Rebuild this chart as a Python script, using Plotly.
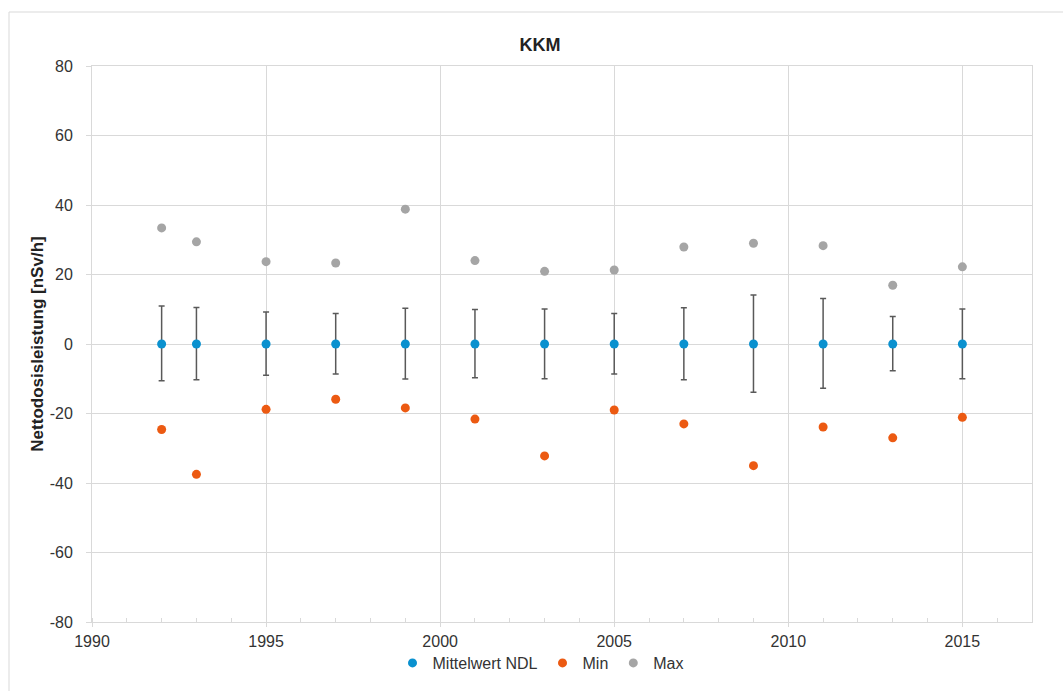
import plotly.graph_objects as go

# ---- data ----
years = [1992, 1993, 1995, 1997, 1999, 2001, 2003, 2005, 2007, 2009, 2011, 2013, 2015]
mean_ndl = [0, 0, 0, 0, 0, 0, 0, 0, 0, 0, 0, 0, 0]
err_plus = [10.9, 10.5, 9.2, 8.8, 10.3, 9.9, 10.1, 8.8, 10.4, 14.1, 13.1, 7.9, 10.1]
err_minus = [10.6, 10.3, 9.0, 8.6, 10.1, 9.7, 10.0, 8.6, 10.3, 13.9, 12.7, 7.7, 10.0]
min_vals = [-24.6, -37.5, -18.8, -15.9, -18.4, -21.6, -32.2, -19.0, -23.0, -35.0, -23.9, -27.0, -21.1]
max_vals = [33.4, 29.4, 23.7, 23.3, 38.8, 24.0, 20.9, 21.3, 27.9, 29.0, 28.3, 16.9, 22.2]

x_ticks = [1990, 1995, 2000, 2005, 2010, 2015]
y_ticks = [-80, -60, -40, -20, 0, 20, 40, 60, 80]

title_text = "KKM"
y_title = "Nettodosisleistung [nSv/h]"
names = ["Mittelwert NDL", "Min", "Max"]

# ---- styling ----
W, H = 1063, 691
ML, MR, MT, MB = 92, 31, 66, 69
FONT = "Liberation Sans, Arial, sans-serif"
TXT = "#333333"
GRID = "#d9d9d9"
BLUE, ORANGE, GRAY = "#0a91cf", "#ec5a12", "#a5a5a5"

fig = go.Figure()
fig.add_trace(go.Scatter(
    x=years, y=mean_ndl, mode="markers", name=names[0],
    marker=dict(color=BLUE, size=9),
    error_y=dict(type="data", symmetric=False, array=err_plus, arrayminus=err_minus,
                 color="#595959", thickness=1.5, width=3),
))
fig.add_trace(go.Scatter(
    x=years, y=min_vals, mode="markers", name=names[1],
    marker=dict(color=ORANGE, size=9),
))
fig.add_trace(go.Scatter(
    x=years, y=max_vals, mode="markers", name=names[2],
    marker=dict(color=GRAY, size=9),
))

pw = W - ML - MR
ph = H - MT - MB
def px2paper_x(px):
    return (px - ML) / pw
def px2paper_y(py):
    return (H - MB - py) / ph

fig.update_layout(
    width=W, height=H,
    margin=dict(l=ML, r=MR, t=MT, b=MB, autoexpand=False),
    paper_bgcolor="white", plot_bgcolor="white",
    font=dict(family=FONT, size=16, color=TXT),
    title=dict(text="<b>" + title_text + "</b>", xref="container", x=540 / W,
               xanchor="center", yref="container", y=1 - 45 / H, yanchor="middle",
               font=dict(size=18, color="#222222")),
    showlegend=True,
    legend=dict(orientation="h", xref="paper", x=px2paper_x(541), xanchor="center",
                yref="paper", y=px2paper_y(663), yanchor="middle",
                font=dict(size=16, color=TXT), itemwidth=30,
                traceorder="normal", bgcolor="rgba(0,0,0,0)"),
    xaxis=dict(range=[1990, 2017], tickvals=x_ticks, ticktext=[str(v) for v in x_ticks],
               showgrid=True, gridcolor=GRID, gridwidth=1,
               showline=True, linecolor=GRID, linewidth=1, mirror=True,
               ticks="outside", ticklen=4, tickcolor=GRID,
               minor=dict(dtick=1, tick0=1990, ticks="inside", ticklen=4, tickcolor=GRID, showgrid=False),
               zeroline=False, ticklabelstandoff=1, automargin=False,
               tickfont=dict(size=16, color=TXT)),
    yaxis=dict(range=[-80, 80], tickvals=y_ticks, ticktext=[str(v) for v in y_ticks],
               showgrid=True, gridcolor=GRID, gridwidth=1,
               showline=True, linecolor=GRID, linewidth=1, mirror=True,
               ticks="outside", ticklen=5, tickcolor=GRID,
               zeroline=False, ticklabelstandoff=10, automargin=False,
               tickfont=dict(size=16, color=TXT),
               title=dict(text="<b>" + y_title + "</b>", standoff=1,
                          font=dict(size=17, color="#222222"))),
    shapes=[dict(type="rect", xref="paper", yref="paper",
                 x0=px2paper_x(9), x1=px2paper_x(W + 5),
                 y0=px2paper_y(H + 5), y1=px2paper_y(12),
                 line=dict(color="#d9d9d9", width=1), fillcolor="rgba(0,0,0,0)",
                 layer="below")],
)

fig.write_html("out.html", config={"displayModeBar": False},
               post_script="document.body.style.margin='0';")
